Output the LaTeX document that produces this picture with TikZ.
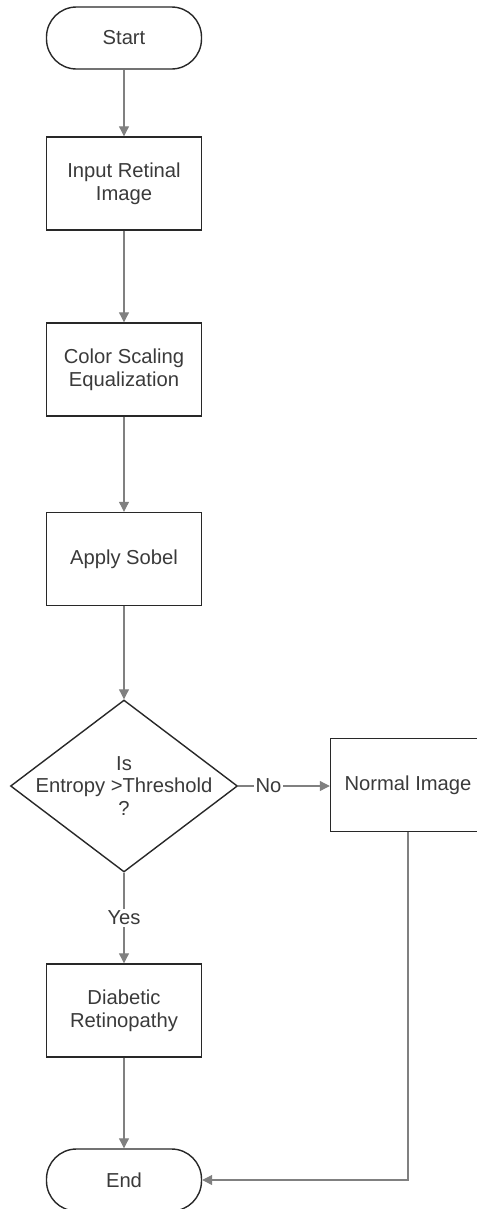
\documentclass[tikz,border=0pt]{standalone}
\usepackage{fontspec}
\setmainfont{Liberation Sans}
\usepackage{xcolor}
\usepackage{tikz}
\usetikzlibrary{shapes.geometric, arrows.meta, positioning}
\definecolor{linecolor}{RGB}{40, 40, 40}
\definecolor{arrowcolor}{RGB}{128, 128, 128}
\definecolor{textcolor}{RGB}{58, 58, 58}

\begin{document}
\begin{tikzpicture}[
    every node/.style={text=textcolor, font=\fontsize{11.5}{13}\selectfont},
    terminal/.style={draw=linecolor, line width=0.8pt, rounded corners=0.6cm, minimum width=3.1cm, minimum height=1.24cm, align=center},
    process/.style={draw=linecolor, line width=0.8pt, minimum width=3.1cm, minimum height=1.86cm, align=center},
    decision/.style={draw=linecolor, line width=0.8pt, diamond, inner sep=0pt, minimum width=4.54cm, minimum height=3.44cm},
    arrow/.style={-{Triangle[length=0.2cm, width=0.2cm]}, draw=arrowcolor, line width=0.6pt},
    tag/.style={fill=white, inner sep=1pt}
]
\useasboundingbox (0, 0) rectangle (9.54, -24.18);

% Flow steps
\node[terminal] (start) at (2.48, -0.76) {Start};
\node[process] (input) at (2.48, -3.67) {Input Retinal\\Image};
\node[process] (color) at (2.48, -7.39) {Color Scaling\\Equalization};
\node[process] (sobel) at (2.48, -11.18) {Apply Sobel};
\node[decision] (check) at (2.48, -15.72) {};
\node[align=center] (checktext) at (check.center) {Is\\Entropy >Threshold\\?};
\node[process] (normal) at (8.16, -15.70) {Normal Image};
\node[process] (diabetic) at (2.48, -20.21) {Diabetic\\Retinopathy};
\node[terminal] (end) at (2.48, -23.60) {End};

% Connectors
\draw[arrow] (start) -- (input);
\draw[arrow] (input) -- (color);
\draw[arrow] (color) -- (sobel);
\draw[arrow] (sobel) -- (check);
\draw[arrow] (check.east) -- node[tag, pos=0.33] {No} (normal.west |- check.east);
\draw[arrow] (check.south) -- node[tag] {Yes} (diabetic);
\draw[arrow] (diabetic) -- (end);
\draw[arrow] (normal.south) |- (end.east);

\end{tikzpicture}
\end{document}
